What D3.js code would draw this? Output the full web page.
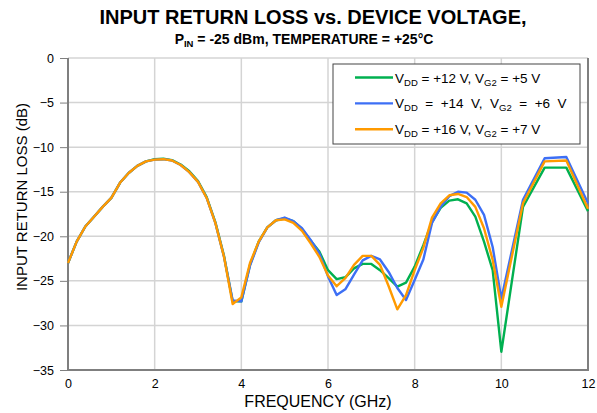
<!DOCTYPE html>
<html>
<head>
<meta charset="utf-8">
<script src="https://d3js.org/d3.v7.min.js"></script>
<style>
  body { margin: 0; background: #fff; font-family: "Liberation Sans", Arial, sans-serif; }
  text { font-family: "Liberation Sans", Arial, sans-serif; fill: #000; }
  .grid line { stroke: #d4d4d4; stroke-width: 1.5px; }
  .frame { stroke: #7f7f7f; stroke-width: 2px; fill: none; }
  .tick line { stroke: #7f7f7f; }
</style>
</head>
<body>
<svg width="597" height="413"></svg>
<script>
// frequencies (GHz)
var freq = [0,0.2,0.4,0.6,0.8,1.0,1.2,1.4,1.6,1.8,2.0,2.2,2.4,2.6,2.8,3.0,3.2,3.4,3.6,3.8,
            4.0,4.2,4.4,4.6,4.8,5.0,5.2,5.4,5.6,5.8,6.0,6.2,6.4,6.6,6.8,7.0,7.2,7.4,7.6,7.8,
            8.0,8.2,8.4,8.6,8.8,9.0,9.2,9.4,9.6,9.8,10.0,10.5,11.0,11.5,12.0];

var vdd12 = [-23.0,-20.6,-18.9,-17.8,-16.7,-15.7,-14.0,-12.9,-12.1,-11.6,-11.35,-11.3,-11.45,-11.95,-12.7,-13.8,-15.6,-18.4,-22.2,-27.3,
             -27.3,-23.2,-20.6,-19.0,-18.2,-18.0,-18.3,-19.2,-20.5,-21.7,-23.8,-24.8,-24.6,-23.6,-23.1,-23.1,-23.8,-24.7,-25.65,-25.2,
             -23.4,-21.0,-18.4,-16.8,-16.0,-15.85,-16.3,-17.8,-20.6,-23.8,-32.95,-16.7,-12.3,-12.3,-17.2];

var vdd14 = [-23.0,-20.6,-18.9,-17.8,-16.7,-15.7,-14.0,-12.9,-12.1,-11.6,-11.4,-11.35,-11.5,-12.0,-12.8,-13.9,-15.7,-18.5,-22.3,-27.2,
             -27.3,-23.3,-20.7,-19.0,-18.2,-17.9,-18.3,-19.1,-20.4,-21.9,-24.5,-26.6,-25.95,-24.3,-22.7,-22.2,-22.6,-24.0,-25.8,-27.15,
             -24.9,-22.6,-18.5,-16.7,-15.5,-15.0,-15.1,-15.9,-17.6,-21.2,-27.0,-15.9,-11.25,-11.1,-16.3];

var vdd16 = [-23.0,-20.6,-18.9,-17.8,-16.7,-15.7,-14.0,-12.9,-12.1,-11.6,-11.4,-11.35,-11.5,-12.0,-12.8,-13.9,-15.7,-18.5,-22.3,-27.6,
             -26.85,-23.0,-20.6,-19.0,-18.2,-18.1,-18.5,-19.4,-20.8,-22.3,-24.4,-25.6,-24.7,-23.2,-22.2,-22.2,-23.2,-25.6,-28.2,-26.6,
             -23.8,-21.3,-17.9,-16.3,-15.4,-15.25,-15.6,-16.7,-19.1,-22.65,-27.9,-16.3,-11.6,-11.5,-16.9];

var xTicks = [0,2,4,6,8,10,12];
var yTicks = [0,-5,-10,-15,-20,-25,-30,-35];

var series = [
  {name: "12", vals: vdd12, color: "#00b050", label: ["V", "DD", " = +12 V, V", "G2", " = +5 V"]},
  {name: "14", vals: vdd14, color: "#3d6ff5", label: ["V", "DD", "  =  +14  V,  V", "G2", "  =  +6  V"]},
  {name: "16", vals: vdd16, color: "#ff9a00", label: ["V", "DD", " = +16 V, V", "G2", " = +7 V"]}
];

var svg = d3.select("svg");
var margin = {left: 68, right: 9, top: 58, bottom: 43};
var W = 597, H = 413;

var x = d3.scaleLinear().domain([0, 12]).range([margin.left, W - margin.right]);
var y = d3.scaleLinear().domain([-35, 0]).range([H - margin.bottom, margin.top]);

// grid
var grid = svg.append("g").attr("class", "grid");
grid.selectAll(".h").data(yTicks).enter().append("line")
  .attr("x1", x(0)).attr("x2", x(12))
  .attr("y1", d => y(d)).attr("y2", d => y(d));
grid.selectAll(".v").data(xTicks.slice(1, -1)).enter().append("line")
  .attr("x1", d => x(d)).attr("x2", d => x(d))
  .attr("y1", y(0)).attr("y2", y(-35));

// axes
var yAxis = svg.append("g")
  .attr("transform", "translate(" + x(0) + ",0)")
  .call(d3.axisLeft(y).tickValues(yTicks).tickSize(8).tickPadding(6));
yAxis.select(".domain").remove();
yAxis.selectAll("text").style("font-size", "12.5px");

var xAxis = svg.append("g")
  .attr("transform", "translate(0," + y(-35) + ")")
  .call(d3.axisBottom(x).tickValues(xTicks).tickSize(0).tickPadding(9));
xAxis.select(".domain").remove();
xAxis.selectAll("text").style("font-size", "12.5px");

svg.append("path").attr("class", "frame")
  .attr("d", "M" + x(0) + "," + y(0) + "V" + y(-35) + "H" + x(12) + "V" + y(0));

// lines
var line = d3.line().x((d, i) => x(freq[i])).y(d => y(d));
svg.selectAll(".series").data(series).enter().append("path")
  .attr("fill", "none")
  .attr("stroke", d => d.color)
  .attr("stroke-width", 2.4)
  .attr("stroke-linejoin", "round")
  .attr("d", d => line(d.vals));

// legend
var lg = svg.append("g").attr("transform", "translate(333,64)");
lg.append("rect").attr("width", 247).attr("height", 80)
  .attr("fill", "#fff").attr("stroke", "#444").attr("stroke-width", 1);
var items = lg.selectAll(".item").data(series).enter().append("g")
  .attr("transform", (d, i) => "translate(0," + (13.5 + i * 25.9) + ")");
items.append("line").attr("x1", 22).attr("x2", 60).attr("y1", 0).attr("y2", 0)
  .attr("stroke", d => d.color).attr("stroke-width", 2.4);
var lt = items.append("text").attr("x", 62).attr("y", 5)
  .style("font-size", "13.5px").style("white-space", "pre").attr("xml:space", "preserve");
lt.each(function(d) {
  var t = d3.select(this);
  d.label.forEach(function(s, k) {
    var sub = (k % 2 === 1);
    t.append("tspan").text(s)
      .style("font-size", sub ? "9.5px" : "13.5px")
      .attr("dy", sub ? 3 : (k === 0 ? 0 : -3));
  });
});

// titles
svg.append("text").attr("x", 313).attr("y", 24).attr("text-anchor", "middle")
  .style("font-size", "20px").style("font-weight", "bold")
  .text("INPUT RETURN LOSS vs. DEVICE VOLTAGE,");
var st = svg.append("text").attr("x", 304).attr("y", 44).attr("text-anchor", "middle")
  .style("font-size", "14px").style("font-weight", "bold");
st.append("tspan").text("P");
st.append("tspan").text("IN").style("font-size", "9.5px").attr("dy", 3);
st.append("tspan").text(" = -25 dBm, TEMPERATURE = +25°C").attr("dy", -3);

svg.append("text").attr("x", 318).attr("y", 407).attr("text-anchor", "middle")
  .style("font-size", "16px").text("FREQUENCY (GHz)");
svg.append("text").attr("transform", "translate(27,197) rotate(-90)")
  .attr("text-anchor", "middle").style("font-size", "15px")
  .text("INPUT RETURN LOSS (dB)");
</script>
</body>
</html>
